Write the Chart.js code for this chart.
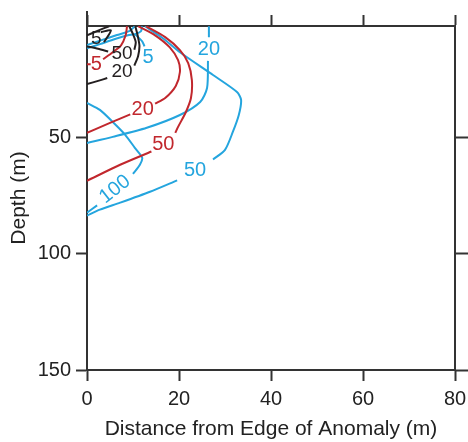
<!DOCTYPE html>
<html lang="en">
<head>
<meta charset="UTF-8">
<title>Depth contours</title>
<script src="https://cdn.jsdelivr.net/npm/chart.js@4.4.0/dist/chart.umd.min.js"></script>
<style>
    html, body { margin: 0; padding: 0; background: #fff; }
    .chart-box { width: 468px; height: 442px; position: relative; }
</style>
</head>
<body>
<div class="chart-box"><canvas id="contourChart"></canvas></div>
<script>
    // axis ticks
    const xTicks = [0, 20, 40, 60, 80];
    const depthTicks = [50, 100, 150];

    // contours as [distance, depth]; null = gap left for the inline label
    const red5 = [[0, 18.5], [0.8, 18.5], null, [3.5, 16.3], [5.6, 13.3], [7.4, 10.3], [8.4, 6.0], [8.7, 2.1]];
    const red20 = [[11.1, 2.1], [14.8, 6.0], [18.0, 11.2], [19.8, 16.7], [20.2, 21.8], [19.3, 27.8], [17.0, 33.0], [14.8, 35.4], null, [9.4, 40.0], [5.0, 43.7], [0, 48.0]];
    const red50 = [[12.8, 2.1], [17.0, 6.8], [20.2, 12.4], [22.0, 18.0], [22.8, 25.3], [22.6, 33.0], [21.5, 39.0], [19.8, 45.4], [19.2, 48.0], null, [14.0, 56.0], [7.2, 61.7], [0, 68.6]];

    const black5 = [[0, 6.0], [2.4, 4.0], [4.8, 2.1]];
    const blackArc = [[3.0, 4.7], [5.2, 3.8], [3.7, 9.0]];
    const black50 = [[0, 10.8], [2.4, 11.8], [4.6, 13.0], null, [10.3, 12.2], [10.6, 9.0], [10.0, 5.5], [9.2, 2.1]];
    const black20 = [[0, 27.0], [2.6, 25.5], [4.4, 24.4], null, [10.3, 19.0], [11.1, 15.0], [11.4, 10.5], [11.0, 6.0], [10.5, 2.1]];

    const cyan5 = [[0, 11.6], [2.8, 9.8], [6.1, 7.6], [8.9, 6.0], [10.4, 5.5], [11.7, 4.3], [12.0, 2.1], null, [10.4, 5.5], [12.0, 8.6], [12.5, 10.8]];
    const cyanInner = [[0, 10.2], [3.0, 8.2], [6.5, 5.9], [9.3, 4.1], [10.4, 2.1]];
    const cyan20 = [[26.5, 2.1], [26.5, 6.8], null, [26.3, 17.0], [26.1, 28.7], [24.6, 34.7], [20.2, 40.3], [13.0, 45.8], [5.6, 49.7], [0, 52.3]];
    const cyan50 = [[12.6, 2.1], [16.5, 7.3], [20.2, 13.3], [27.4, 23.1], [32.6, 30.4], [33.5, 33.8], [33.0, 40.3], [31.7, 47.6], [30.0, 55.3], [27.4, 59.4], null, [19.6, 68.4], [13.7, 73.3], [7.2, 78.0], [2.8, 81.0], [0, 83.6]];
    const cyan100 = [[0, 35.1], [2.8, 38.1], [5.6, 43.3], [8.3, 48.8], [10.4, 54.4], [12.0, 58.7], [11.5, 61.7], [10.0, 65.6], null, [2.2, 79.2], [0, 82.3]];

    // inline labels: [distance, depth, text, rotation in degrees]
    const redLabels = [[2.0, 18.6, '5'], [12.1, 38.1, '20'], [16.6, 52.9, '50']];
    const blackLabels = [[2.0, 7.3, '5'], [7.6, 13.9, '50'], [7.6, 21.9, '20']];
    const cyanLabels = [[13.3, 15.4, '5'], [26.5, 12.0, '20'], [23.5, 64.0, '50'], [6.1, 72.3, '100', -38]];

    const RED = '#c1272d';
    const CYAN = '#24a5de';
    const BLACK = '#231f20';
    const AXIS = '#333333';
    const FONT = 'Arial, "Liberation Sans", Helvetica, sans-serif';

    Chart.defaults.font.family = FONT;

    function toPoints(arr) {
        return arr.map(p => p ? { x: p[0], y: p[1] } : { x: null, y: null });
    }

    const lines = [
        [red5, RED], [red20, RED], [red50, RED],
        [black5, BLACK], [blackArc, BLACK], [black50, BLACK], [black20, BLACK],
        [cyan5, CYAN], [cyanInner, CYAN], [cyan20, CYAN], [cyan50, CYAN], [cyan100, CYAN]
    ];

    const labelSets = [
        { items: redLabels, color: RED, size: 20 },
        { items: blackLabels, color: BLACK, size: 19 },
        { items: cyanLabels, color: CYAN, size: 20 }
    ];

    const contourLabels = {
        id: 'contourLabels',
        afterDatasetsDraw(chart) {
            const { ctx, scales: { x, y } } = chart;
            ctx.save();
            ctx.textAlign = 'center';
            ctx.textBaseline = 'middle';
            labelSets.forEach(set => {
                ctx.fillStyle = set.color;
                ctx.font = set.size + 'px ' + FONT;
                set.items.forEach(([dx, dd, text, rot]) => {
                    ctx.save();
                    ctx.translate(x.getPixelForValue(dx), y.getPixelForValue(dd));
                    if (rot) ctx.rotate(rot * Math.PI / 180);
                    ctx.fillText(text, 0, 0);
                    ctx.restore();
                });
            });
            ctx.restore();
        },
        afterDraw(chart) {
            // left axis runs a little past the top frame
            const { ctx, chartArea } = chart;
            ctx.save();
            ctx.strokeStyle = AXIS;
            ctx.lineWidth = 2;
            ctx.beginPath();
            ctx.moveTo(chartArea.left, chartArea.top);
            ctx.lineTo(chartArea.left, chartArea.top - 15);
            ctx.stroke();
            ctx.restore();
        }
    };

    const setXTicks = s => { s.ticks = xTicks.map(v => ({ value: v })); };
    const setDepthTicks = s => { s.ticks = depthTicks.map(v => ({ value: v })); };

    new Chart(document.getElementById('contourChart'), {
        type: 'scatter',
        data: {
            datasets: lines.map(([pts, color]) => ({
                data: toPoints(pts),
                borderColor: color,
                backgroundColor: color,
                borderWidth: 2,
                pointRadius: 0,
                showLine: true,
                spanGaps: false,
                tension: 0.25
            }))
        },
        options: {
            responsive: true,
            maintainAspectRatio: false,
            animation: false,
            events: [],
            layout: { padding: 0 },
            plugins: {
                legend: { display: false },
                tooltip: { enabled: false }
            },
            scales: {
                x: {
                    type: 'linear', position: 'bottom', min: 0, max: 80,
                    afterBuildTicks: setXTicks,
                    afterFit: s => { s.height = 72; s.paddingLeft = 0; s.paddingRight = 0; },
                    ticks: { color: '#222', font: { size: 20 }, padding: 6, maxRotation: 0 },
                    grid: { drawOnChartArea: false, tickLength: 11, color: AXIS, tickWidth: 2 },
                    border: { color: AXIS, width: 2 },
                    title: {
                        display: true, text: 'Distance from Edge of Anomaly (m)',
                        color: '#222', font: { size: 21 }, padding: { top: 0, bottom: 0 }
                    }
                },
                xTop: {
                    type: 'linear', position: 'top', min: 0, max: 80,
                    afterBuildTicks: setXTicks,
                    afterFit: s => { s.height = 26; s.paddingLeft = 0; s.paddingRight = 0; },
                    ticks: { display: false },
                    grid: { drawOnChartArea: false, tickLength: 11, color: AXIS, tickWidth: 2 },
                    border: { color: AXIS, width: 2 }
                },
                y: {
                    type: 'linear', position: 'left', reverse: true, min: 2, max: 150,
                    afterBuildTicks: setDepthTicks,
                    afterFit: s => { s.width = 87; s.paddingTop = 0; s.paddingBottom = 0; },
                    ticks: { color: '#222', font: { size: 20 }, padding: 5 },
                    grid: { drawOnChartArea: false, tickLength: 11, color: AXIS, tickWidth: 2 },
                    border: { color: AXIS, width: 2 },
                    title: {
                        display: true, text: 'Depth (m)',
                        color: '#222', font: { size: 21 }, padding: { top: 7, bottom: 0 }
                    }
                },
                yRight: {
                    type: 'linear', position: 'right', reverse: true, min: 2, max: 150,
                    afterBuildTicks: setDepthTicks,
                    afterFit: s => { s.width = 13; s.paddingTop = 0; s.paddingBottom = 0; },
                    ticks: { display: false },
                    grid: { drawOnChartArea: false, tickLength: 13, color: AXIS, tickWidth: 2 },
                    border: { color: AXIS, width: 2 }
                }
            }
        },
        plugins: [contourLabels]
    });
</script>
</body>
</html>
